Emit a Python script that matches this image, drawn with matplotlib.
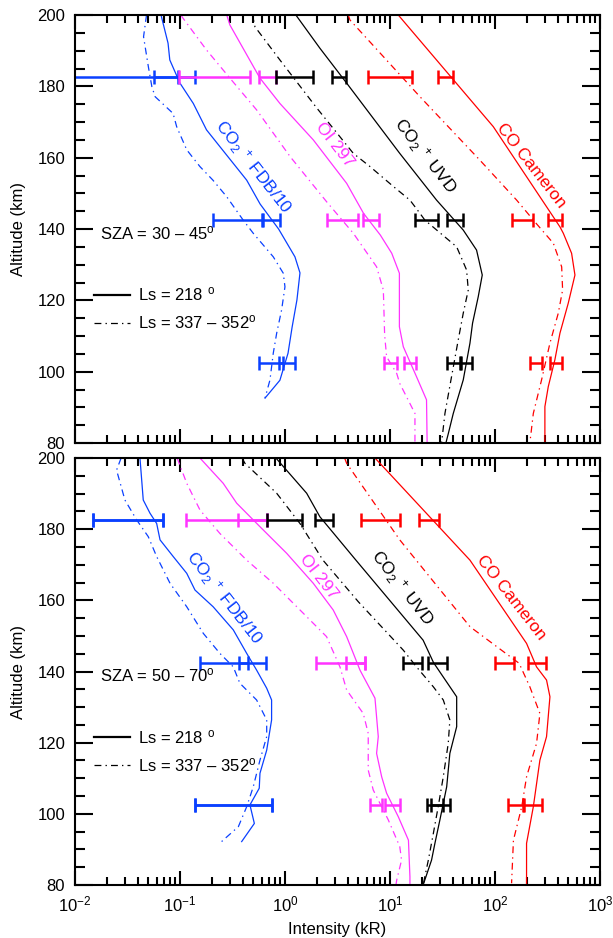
import numpy as np
import matplotlib
matplotlib.use('Agg')
import matplotlib.pyplot as plt
from matplotlib.lines import Line2D
from matplotlib.ticker import MultipleLocator, LogLocator, NullFormatter

plt.rcParams['font.family'] = ['Liberation Sans', 'DejaVu Sans']
plt.rcParams['mathtext.fontset'] = 'custom'
plt.rcParams['mathtext.rm'] = 'Liberation Sans'
plt.rcParams['mathtext.it'] = 'Liberation Sans:italic'
plt.rcParams['mathtext.bf'] = 'Liberation Sans:bold'

BLUE = '#0a40ff'
MAGENTA = '#ff33ff'
RED = '#ff0000'
BLACK = '#000000'

# ---------------- top panel (SZA 30-45) : limb profiles, kR ----------------
top_fdb_218_alt = [200, 192.1, 187.4, 180.9, 175.2, 167.8, 163.1, 158.4, 153.7, 147, 140, 132.2, 127.7, 120.1, 112.5, 105.2, 97.6, 92.6]
top_fdb_218_val = [0.066, 0.077, 0.080, 0.100, 0.134, 0.179, 0.240, 0.322, 0.432, 0.58, 0.87, 1.245, 1.39, 1.30, 1.17, 1.07, 0.895, 0.646]
top_fdb_337_alt = [200, 193.9, 185.5, 179.9, 177.1, 172.4, 168.7, 162.2, 157.5, 153.7, 149.1, 142.5, 138.8, 132.2, 127.6, 123.8, 117.3, 110.8, 105.2, 97.7, 92.6]
top_fdb_337_val = [0.048, 0.045, 0.050, 0.054, 0.058, 0.086, 0.093, 0.116, 0.155, 0.206, 0.278, 0.40, 0.499, 0.774, 0.964, 1.0, 0.929, 0.834, 0.774, 0.72, 0.646]

top_oi_218_alt = [200, 197.2, 182.3, 175.2, 165.0, 152.8, 144.4, 138.3, 133.2, 127.6, 112.6, 107.0, 98.6, 92.1, 80]
top_oi_218_val = [0.279, 0.299, 0.578, 0.895, 1.86, 3.87, 5.6, 8.1, 10.4, 12.3, 12.3, 13.4, 17.9, 22.3, 22.6]
top_oi_337_alt = [200, 199.1, 190.2, 182.3, 173.4, 160.3, 147.6, 138.8, 129.4, 122.9, 110.3, 104.2, 99.5, 96.7, 88.3, 80]
top_oi_337_val = [0.102, 0.107, 0.179, 0.299, 0.537, 1.12, 2.5, 4.48, 7.46, 8.65, 8.9, 9.29, 11.6, 12.4, 17.3, 17.3]

top_uvd_218_alt = [200, 190.7, 180.9, 161.2, 148.1, 139.7, 134.1, 127.1, 121.0, 113.6, 108.0, 97.7, 88.3, 82.7, 80]
top_uvd_218_val = [1.27, 2.15, 3.87, 12.4, 27.8, 49.9, 66.8, 75.7, 69.3, 61.2, 57.8, 49.9, 40.1, 36.0, 34.1]
top_uvd_337_alt = [200, 196.7, 187.4, 174.0, 161.2, 157.5, 151.9, 148.1, 144.4, 142.5, 135.0, 128.5, 122.9, 116.4, 108.9, 98.6, 88.3, 80]
top_uvd_337_val = [0.49, 0.518, 0.895, 2.0, 4.48, 6.46, 10.8, 15.5, 19.3, 21.5, 43.2, 53.7, 55.7, 49.9, 44.7, 38.6, 33.4, 31.0]

top_cam_218_alt = [200, 168.7, 140.6, 138.8, 133.2, 127.1, 119.2, 110.8, 103.3, 95.8, 90.2, 80]
top_cam_218_val = [12.0, 96.4, 416, 448, 537, 578, 499, 416, 372, 322, 299, 299]
top_cam_337_alt = [200, 198.6, 177.1, 159.3, 148.1, 142.0, 136.0, 129.4, 122.9, 116.4, 108.0, 97.7, 88.3, 80]
top_cam_337_val = [4.0, 4.16, 19.3, 71.9, 161, 240, 360, 432, 441, 401, 334, 278, 232, 215]

# ---------------- bottom panel (SZA 50-70) ----------------
bot_fdb_218_alt = [200, 188.2, 184.5, 181.6, 177.0, 172.3, 167.6, 162.9, 158.2, 151.7, 145.1, 140.4, 135.3, 132.0, 126.4, 117.9, 111.4, 107.2, 102.5, 97.3, 92.2]
bot_fdb_218_val = [0.0416, 0.0447, 0.0518, 0.060, 0.0646, 0.0863, 0.116, 0.139, 0.207, 0.322, 0.432, 0.537, 0.67, 0.746, 0.746, 0.67, 0.578, 0.569, 0.464, 0.511, 0.387]
bot_fdb_337_alt = [200, 196.6, 188.2, 182.6, 177.9, 172.3, 164.8, 158.2, 150.7, 145.1, 141.3, 136.7, 132.0, 126.4, 121.7, 115.1, 107.6, 102.0, 96.4, 92.2]
bot_fdb_337_val = [0.0275, 0.0249, 0.0299, 0.0387, 0.0499, 0.060, 0.0804, 0.116, 0.167, 0.240, 0.322, 0.372, 0.537, 0.67, 0.67, 0.578, 0.499, 0.432, 0.36, 0.249]

bot_oi_218_alt = [200, 192.9, 187.3, 180.7, 173.2, 164.8, 157.3, 149.8, 145.1, 140.4, 132.5, 121.7, 117.0, 110.4, 105.8, 99.2, 92.6, 82.3, 80]
bot_oi_218_val = [0.155, 0.258, 0.347, 0.578, 1.04, 1.86, 2.88, 3.87, 4.48, 5.18, 7.2, 7.74, 7.46, 8.34, 9.29, 12.0, 15.0, 15.5, 15.5]
bot_oi_337_alt = [200, 192.9, 185.4, 178.8, 171.3, 164.8, 157.3, 149.8, 141.3, 134.8, 128.2, 122.6, 112.3, 106.7, 98.3, 90.8, 87.0, 81.4, 80]
bot_oi_337_val = [0.094, 0.116, 0.155, 0.240, 0.432, 0.774, 1.39, 2.49, 3.34, 3.87, 5.57, 6.21, 6.21, 6.93, 9.64, 12.4, 12.9, 11.6, 11.4]

bot_uvd_218_alt = [200, 190.1, 183.5, 171.3, 148.8, 142.5, 132.9, 124.5, 117.0, 107.6, 98.3, 91.7, 87.0, 80]
bot_uvd_218_val = [0.82, 1.61, 2.15, 4.74, 20.7, 26.0, 43.2, 43.2, 37.2, 34.7, 29.9, 26.8, 24.9, 20.7]
bot_uvd_337_alt = [200, 198.5, 190.1, 181.6, 171.3, 159.6, 146.0, 141.3, 135.7, 132.0, 126.4, 119.8, 110.4, 102.0, 94.5, 87.0, 80]
bot_uvd_337_val = [0.39, 0.416, 0.834, 1.39, 2.3, 5.0, 13.4, 17.9, 25.9, 32.2, 37.2, 35.9, 32.2, 28.8, 25.9, 23.2, 20.7]

bot_cam_218_alt = [200, 198.5, 171.3, 147.9, 141.3, 137.6, 132.9, 121.7, 115.1, 102.0, 91.7, 80]
bot_cam_218_val = [7.2, 8.04, 57.8, 200, 249, 310, 334, 310, 268, 232, 200, 200]
bot_cam_337_alt = [200, 198.5, 177.0, 152.6, 142.3, 135.7, 128.2, 119.8, 110.4, 102.0, 92.6, 80.5]
bot_cam_337_val = [3.7, 3.87, 12.4, 57.8, 170, 215, 268, 249, 200, 180, 150, 144]

# ---------------- error bars (low / high, kR), two per altitude ----------------
bar_alt = [182.5, 182.5, 142.5, 142.5, 102.5, 102.5]

top_fdb_lo = [0.001, 0.057, 0.207, 0.60, 0.565, 0.877]
top_fdb_hi = [0.139, 0.096, 0.614, 0.896, 0.95, 1.245]
top_oi_lo = [0.098, 0.569, 2.49, 5.57, 8.77, 13.6]
top_oi_hi = [0.464, 0.82, 4.92, 7.91, 11.7, 17.7]
top_uvd_lo = [0.82, 2.79, 17.3, 34.7, 34.7, 47.0]
top_uvd_hi = [1.86, 3.79, 28.8, 49.9, 46.0, 60.8]
top_cam_lo = [6.21, 28.8, 144, 322, 215, 334]
top_cam_hi = [16.1, 40.1, 232, 438, 279, 438]

bot_fdb_lo = [0.0149, 0.0149, 0.155, 0.365, 0.139, 0.139]
bot_fdb_hi = [0.0684, 0.0684, 0.447, 0.659, 0.757, 0.757]
bot_oi_lo = [0.114, 0.359, 1.97, 3.81, 6.45, 8.96]
bot_oi_hi = [0.67, 0.67, 5.78, 5.78, 8.34, 12.4]
bot_uvd_lo = [0.678, 1.93, 13.4, 23.2, 22.4, 24.4]
bot_uvd_hi = [1.44, 2.85, 20.0, 34.7, 32.2, 37.3]
bot_cam_lo = [5.26, 18.9, 100, 208, 134, 188]
bot_cam_hi = [12.4, 29.3, 153, 306, 186, 279]

species_colors = [BLUE, MAGENTA, BLACK, RED]
species_names = [r'CO$_2$$\,^+$ FDB/10', 'OI 297', r'CO$_2$$\,^+$ UVD', 'CO Cameron']

# label positions (value, altitude) per panel
top_label_x = [0.49, 3.0, 21.5, 222]
top_label_y = [157.4, 163.6, 160.5, 157.9]
bot_label_x = [0.26, 2.08, 13.1, 143]
bot_label_y = [160.7, 166.6, 163.5, 160.9]

DASHDOT = (5.5, 3.3, 1.1, 3.3)


def draw_panel(ax, curves, bars, lab_x, lab_y, sza_text):
    for (a218, v218, a337, v337), color in zip(curves, species_colors):
        ax.plot(v218, a218, color=color, lw=0.9)
        ax.plot(v337, a337, color=color, lw=0.9, dashes=DASHDOT)
    for (lo, hi), color in zip(bars, species_colors):
        lo = np.array(lo)
        hi = np.array(hi)
        c = np.sqrt(lo * hi)
        ax.errorbar(c, bar_alt, xerr=[c - lo, hi - c], fmt='none',
                    ecolor=color, elinewidth=1.8, capsize=4.7, capthick=1.8)
    for name, x, y, color in zip(species_names, lab_x, lab_y, species_colors):
        ax.text(x, y, name, color=color, fontsize=12.5, rotation=-52,
                rotation_mode='anchor', ha='center', va='center')
    ax.text(0.048, 0.49, sza_text, transform=ax.transAxes, fontsize=12,
            ha='left', va='center')

    handles = [Line2D([], [], color='black', lw=1.6),
               Line2D([], [], color='black', lw=0.9, dashes=DASHDOT)]
    ax.legend(handles, [r'Ls = 218 $^{\rm o}$', r'Ls = 337 – 352$^{\rm o}$'],
              loc='upper left', bbox_to_anchor=(0.036, 0.368), frameon=False,
              fontsize=12, handlelength=2.15, handletextpad=0.5,
              labelspacing=0.6, borderpad=0, borderaxespad=0)

    ax.set_xscale('log')
    ax.set_xlim(1e-2, 1e3)
    ax.set_ylim(80, 200)
    ax.yaxis.set_major_locator(MultipleLocator(20))
    ax.yaxis.set_minor_locator(MultipleLocator(5))
    ax.xaxis.set_major_locator(LogLocator(base=10, numticks=10))
    ax.xaxis.set_minor_locator(LogLocator(base=10, subs=np.arange(2, 10), numticks=50))
    ax.xaxis.set_minor_formatter(NullFormatter())
    ax.tick_params(which='both', direction='in', top=True, right=True,
                   width=1.5, labelsize=12, pad=7)
    ax.tick_params(axis='y', which='major', length=13)
    ax.tick_params(axis='y', which='minor', length=7)
    ax.tick_params(axis='x', which='major', length=10)
    ax.tick_params(axis='x', which='minor', length=5.5)
    for s in ax.spines.values():
        s.set_linewidth(1.5)
    ax.set_ylabel('Altitude (km)', fontsize=12, labelpad=8)


fig = plt.figure(figsize=(6.13, 9.38), dpi=100)
ax_top = fig.add_axes([0.1223, 0.5277, 0.8564, 0.4563])
ax_bot = fig.add_axes([0.1223, 0.0565, 0.8564, 0.4552])

top_curves = [(top_fdb_218_alt, top_fdb_218_val, top_fdb_337_alt, top_fdb_337_val),
              (top_oi_218_alt, top_oi_218_val, top_oi_337_alt, top_oi_337_val),
              (top_uvd_218_alt, top_uvd_218_val, top_uvd_337_alt, top_uvd_337_val),
              (top_cam_218_alt, top_cam_218_val, top_cam_337_alt, top_cam_337_val)]
top_bars = [(top_fdb_lo, top_fdb_hi), (top_oi_lo, top_oi_hi),
            (top_uvd_lo, top_uvd_hi), (top_cam_lo, top_cam_hi)]
bot_curves = [(bot_fdb_218_alt, bot_fdb_218_val, bot_fdb_337_alt, bot_fdb_337_val),
              (bot_oi_218_alt, bot_oi_218_val, bot_oi_337_alt, bot_oi_337_val),
              (bot_uvd_218_alt, bot_uvd_218_val, bot_uvd_337_alt, bot_uvd_337_val),
              (bot_cam_218_alt, bot_cam_218_val, bot_cam_337_alt, bot_cam_337_val)]
bot_bars = [(bot_fdb_lo, bot_fdb_hi), (bot_oi_lo, bot_oi_hi),
            (bot_uvd_lo, bot_uvd_hi), (bot_cam_lo, bot_cam_hi)]

draw_panel(ax_top, top_curves, top_bars, top_label_x, top_label_y,
           r'SZA = 30 – 45$^{\rm o}$')
draw_panel(ax_bot, bot_curves, bot_bars, bot_label_x, bot_label_y,
           r'SZA = 50 – 70$^{\rm o}$')

ax_top.tick_params(axis='x', labelbottom=False)
ax_bot.set_xlabel('Intensity (kR)', fontsize=12, labelpad=5)

fig.savefig('out.png', dpi=100)
